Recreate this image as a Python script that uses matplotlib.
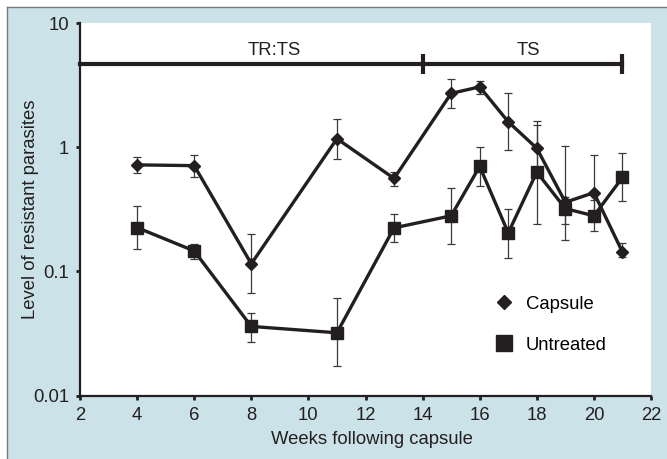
import matplotlib
matplotlib.use("Agg")
import matplotlib.pyplot as plt
from matplotlib.lines import Line2D
from matplotlib.patches import Rectangle
import numpy as np

plt.rcParams['font.family'] = ['Liberation Sans', 'DejaVu Sans']
fs = 13.3

# data
weeks = [4, 6, 8, 11, 13, 15, 16, 17, 18, 19, 20, 21]

capsule = [0.72, 0.71, 0.115, 1.17, 0.56, 2.71, 3.06, 1.6, 0.98, 0.36, 0.43, 0.143]
capsule_lo = [0.62, 0.575, 0.067, 0.80, 0.49, 2.05, 2.66, 0.95, 0.62, 0.178, 0.30, 0.13]
capsule_hi = [0.835, 0.87, 0.198, 1.70, 0.63, 3.53, 3.43, 2.71, 1.63, 1.02, 0.87, 0.17]

untreated = [0.225, 0.146, 0.036, 0.032, 0.224, 0.28, 0.70, 0.204, 0.63, 0.32, 0.28, 0.57]
untreated_lo = [0.150, 0.126, 0.027, 0.0172, 0.172, 0.167, 0.49, 0.128, 0.24, 0.24, 0.21, 0.37]
untreated_hi = [0.337, 0.167, 0.046, 0.061, 0.29, 0.465, 1.0, 0.32, 1.5, 0.40, 0.375, 0.89]

# treatment phases along the top
phase_names = ['TR:TS', 'TS']
phase_start = [2, 14]
phase_end = [14, 21]
phase_label_x = [8.8, 17.7]
phase_level = 4.64

ink = '#231f20'
bg = '#cce2e9'

W, H = 667, 459
fig = plt.figure(figsize=(W / 100, H / 100), dpi=100)
fig.patch.set_facecolor('white')

# light blue panel with a thin rule on top and left
fig.patches.append(Rectangle((7 / W, 0), 1, 1 - 7 / H, transform=fig.transFigure,
                             facecolor=bg, edgecolor='none', zorder=-10))
fig.lines.append(Line2D([7 / W, 1], [1 - 7 / H, 1 - 7 / H], transform=fig.transFigure,
                        color='#77787b', lw=1.0))
fig.lines.append(Line2D([7 / W, 7 / W], [0, 1 - 7 / H], transform=fig.transFigure,
                        color='#77787b', lw=1.0))

ax = fig.add_axes([80 / W, 1 - 395.5 / H, 571 / W, 372.5 / H])
ax.set_facecolor('white')
ax.set_yscale('log')
ax.set_xlim(2, 22)
ax.set_ylim(0.01, 10)

x = np.array(weeks)
c = np.array(capsule)
u = np.array(untreated)

ax.errorbar(x, c, yerr=[c - np.array(capsule_lo), np.array(capsule_hi) - c],
            fmt='-D', color=ink, lw=2.4, ms=6.6, ecolor='#3a3a3a', elinewidth=0.9,
            capsize=3, capthick=0.9, zorder=3, clip_on=False)
ax.errorbar(x, u, yerr=[u - np.array(untreated_lo), np.array(untreated_hi) - u],
            fmt='-s', color=ink, lw=2.4, ms=8.8, ecolor='#3a3a3a', elinewidth=0.9,
            capsize=3, capthick=0.9, zorder=3, clip_on=False)

# phase bar
ax.plot([phase_start[0], phase_end[-1]], [phase_level, phase_level], color=ink, lw=3, clip_on=False)
for xe in phase_end:
    ax.plot([xe], [phase_level], marker='|', ms=14, mew=3, color=ink)
for name, xl in zip(phase_names, phase_label_x):
    ax.text(xl, phase_level * 1.1, name, ha='center', va='bottom', fontsize=fs, color=ink)

for s in ['top', 'right']:
    ax.spines[s].set_visible(False)
for s in ['left', 'bottom']:
    ax.spines[s].set_linewidth(1.6)
    ax.spines[s].set_color(ink)

ax.set_xticks(range(2, 23, 2))
ax.set_yticks([0.01, 0.1, 1, 10])
ax.set_yticklabels(['0.01', '0.1', '1', '10'])
ax.minorticks_off()
ax.tick_params(direction='out', length=3, width=2, color=ink, labelsize=fs,
               labelcolor=ink, pad=5)

ax.set_xlabel('Weeks following capsule', fontsize=fs, color=ink)
ax.set_ylabel('Level of resistant parasites', fontsize=fs, color=ink)
ax.xaxis.set_label_coords(0.511, -0.095)
ax.yaxis.set_label_coords(-0.072, 0.5)

handles = [Line2D([], [], ls='none', marker='D', ms=7.5, color=ink),
           Line2D([], [], ls='none', marker='s', ms=11, color=ink)]
ax.legend(handles, ['Capsule', 'Untreated'], loc='center left',
          bbox_to_anchor=(0.707, 0.19), frameon=False, fontsize=fs,
          handlelength=1.2, handletextpad=0.57, labelspacing=1.29, borderpad=0)

fig.savefig('out.png', dpi=100)
